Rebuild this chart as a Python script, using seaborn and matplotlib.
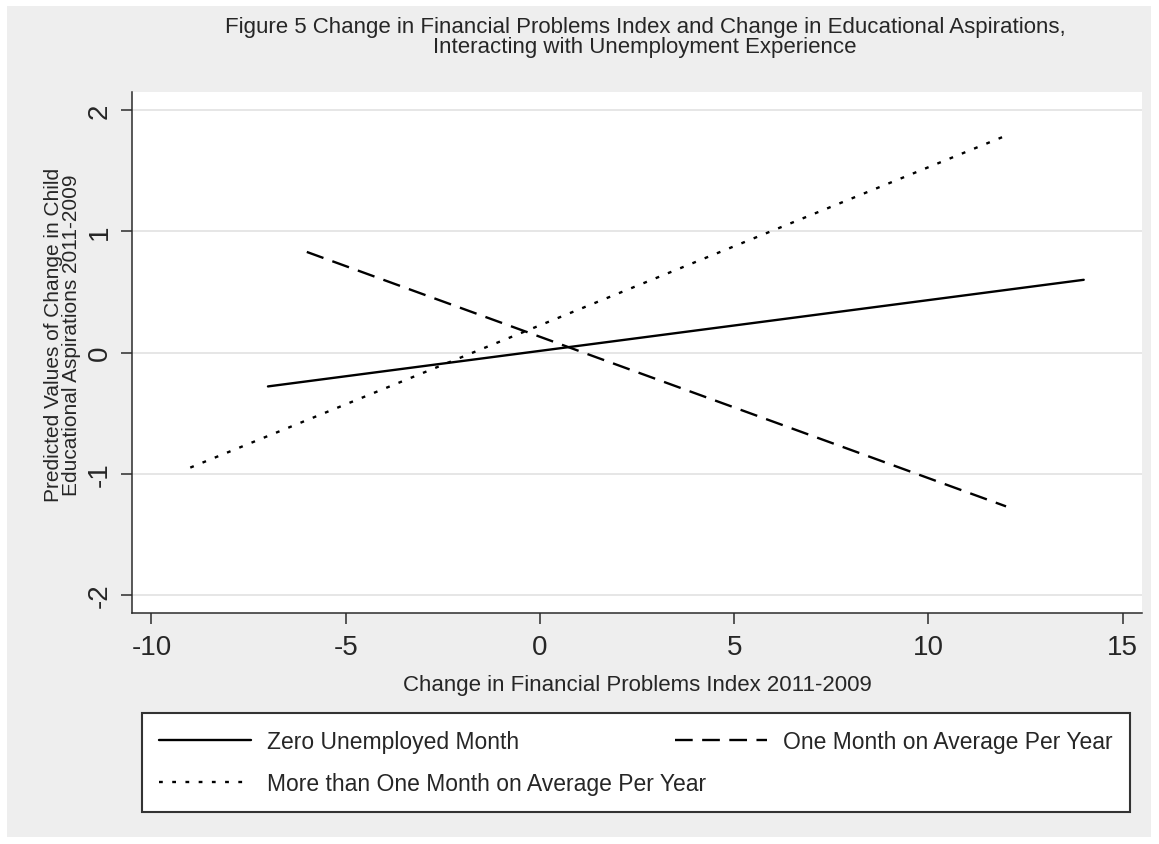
import matplotlib
matplotlib.use("Agg")
import matplotlib.pyplot as plt
import seaborn as sns
import pandas as pd
from matplotlib.lines import Line2D
from matplotlib.patches import Rectangle

# Predicted values at the ends of each fitted line
groups = ["Zero Unemployed Month",
          "One Month on Average Per Year",
          "More than One Month on Average Per Year"]
zero_x = [-7, 14]
zero_y = [-0.28, 0.60]
one_x = [-6, 12]
one_y = [0.83, -1.27]
more_x = [-9, 12]
more_y = [-0.95, 1.79]
x_ticks = [-10, -5, 0, 5, 10, 15]
y_ticks = [-2, -1, 0, 1, 2]

title = ("Figure 5 Change in Financial Problems Index and Change in Educational Aspirations,\n"
         "Interacting with Unemployment Experience")
x_label = "Change in Financial Problems Index 2011-2009"
y_label = "Predicted Values of Change in Child\nEducational Aspirations 2011-2009"

df = pd.concat([
    pd.DataFrame({"x": zero_x, "y": zero_y, "group": groups[0]}),
    pd.DataFrame({"x": one_x, "y": one_y, "group": groups[1]}),
    pd.DataFrame({"x": more_x, "y": more_y, "group": groups[2]}),
], ignore_index=True)

sns.set_theme(style="white")
plt.rcParams["font.family"] = ["Liberation Sans", "DejaVu Sans"]

W, H = 1159, 845
fig = plt.figure(figsize=(W / 100, H / 100), dpi=100, facecolor="white")
bg_gray = "#eeeeee"
fig.patches.append(Rectangle((7 / W, 7 / H), (1151 - 7) / W, (838 - 7) / H,
                             transform=fig.transFigure, facecolor=bg_gray,
                             edgecolor="none", zorder=-10))

ax = fig.add_axes([132 / W, 1 - 614 / H, (1142 - 132) / W, (614 - 93) / H])
ax.set_facecolor("white")

dash_map = {groups[0]: "", groups[1]: (7.5, 4), groups[2]: (1.6, 4.0)}
sns.lineplot(data=df, x="x", y="y", hue="group", style="group",
             palette=["black"] * 3, dashes=dash_map, linewidth=1.7,
             legend=False, ax=ax, zorder=3)

ax.set_xlim(-10.5, 15.5)
ax.set_ylim(-2.15, 2.15)
ax.set_xticks(x_ticks)
ax.set_yticks(y_ticks)
ax.set_xticklabels([str(t) for t in x_ticks])
ax.set_yticklabels([str(t) for t in y_ticks], rotation=90, va="center")

for t in y_ticks:
    ax.axhline(t, color="#e6e6e6", linewidth=1.4, zorder=1)

for side in ["top", "right"]:
    ax.spines[side].set_visible(False)
for side in ["left", "bottom"]:
    ax.spines[side].set_color("#2b2b2b")
    ax.spines[side].set_linewidth(1.1)

ax.tick_params(axis="both", direction="out", length=8, width=1.1,
               color="#2b2b2b", labelsize=20, pad=6, left=True, bottom=True)
ax.tick_params(axis="x", pad=7)

ax.set_xlabel(x_label, fontsize=16, labelpad=10)
ax.set_ylabel(y_label, fontsize=15, linespacing=0.9)
ax.yaxis.set_label_coords(-0.0505, 0.535)

fig.text(645 / W, 1 - 17 / H, title, ha="center", va="top",
         fontsize=16, linespacing=0.92)

handles = [
    Line2D([], [], color="black", linewidth=1.7),
    Line2D([], [], color="black", linewidth=1.7, linestyle=(0, (1.6, 4.0))),
    Line2D([], [], color="black", linewidth=1.7, linestyle=(0, (7.5, 4))),
]
labels = [groups[0], groups[2], groups[1]]
leg = fig.legend(handles, labels, ncol=2, mode="expand",
                 bbox_to_anchor=(142 / W, 1 - 810 / H, (1130 - 142) / W, (810 - 714) / H),
                 loc="upper left", fontsize=16.5, frameon=True, fancybox=False,
                 edgecolor="#333333", facecolor="white", framealpha=1,
                 borderpad=0.75, labelspacing=0.8, handlelength=4.0,
                 handletextpad=0.7, borderaxespad=0)
leg.get_frame().set_linewidth(1.5)

fig.savefig("out.png", dpi=100, facecolor=fig.get_facecolor())
